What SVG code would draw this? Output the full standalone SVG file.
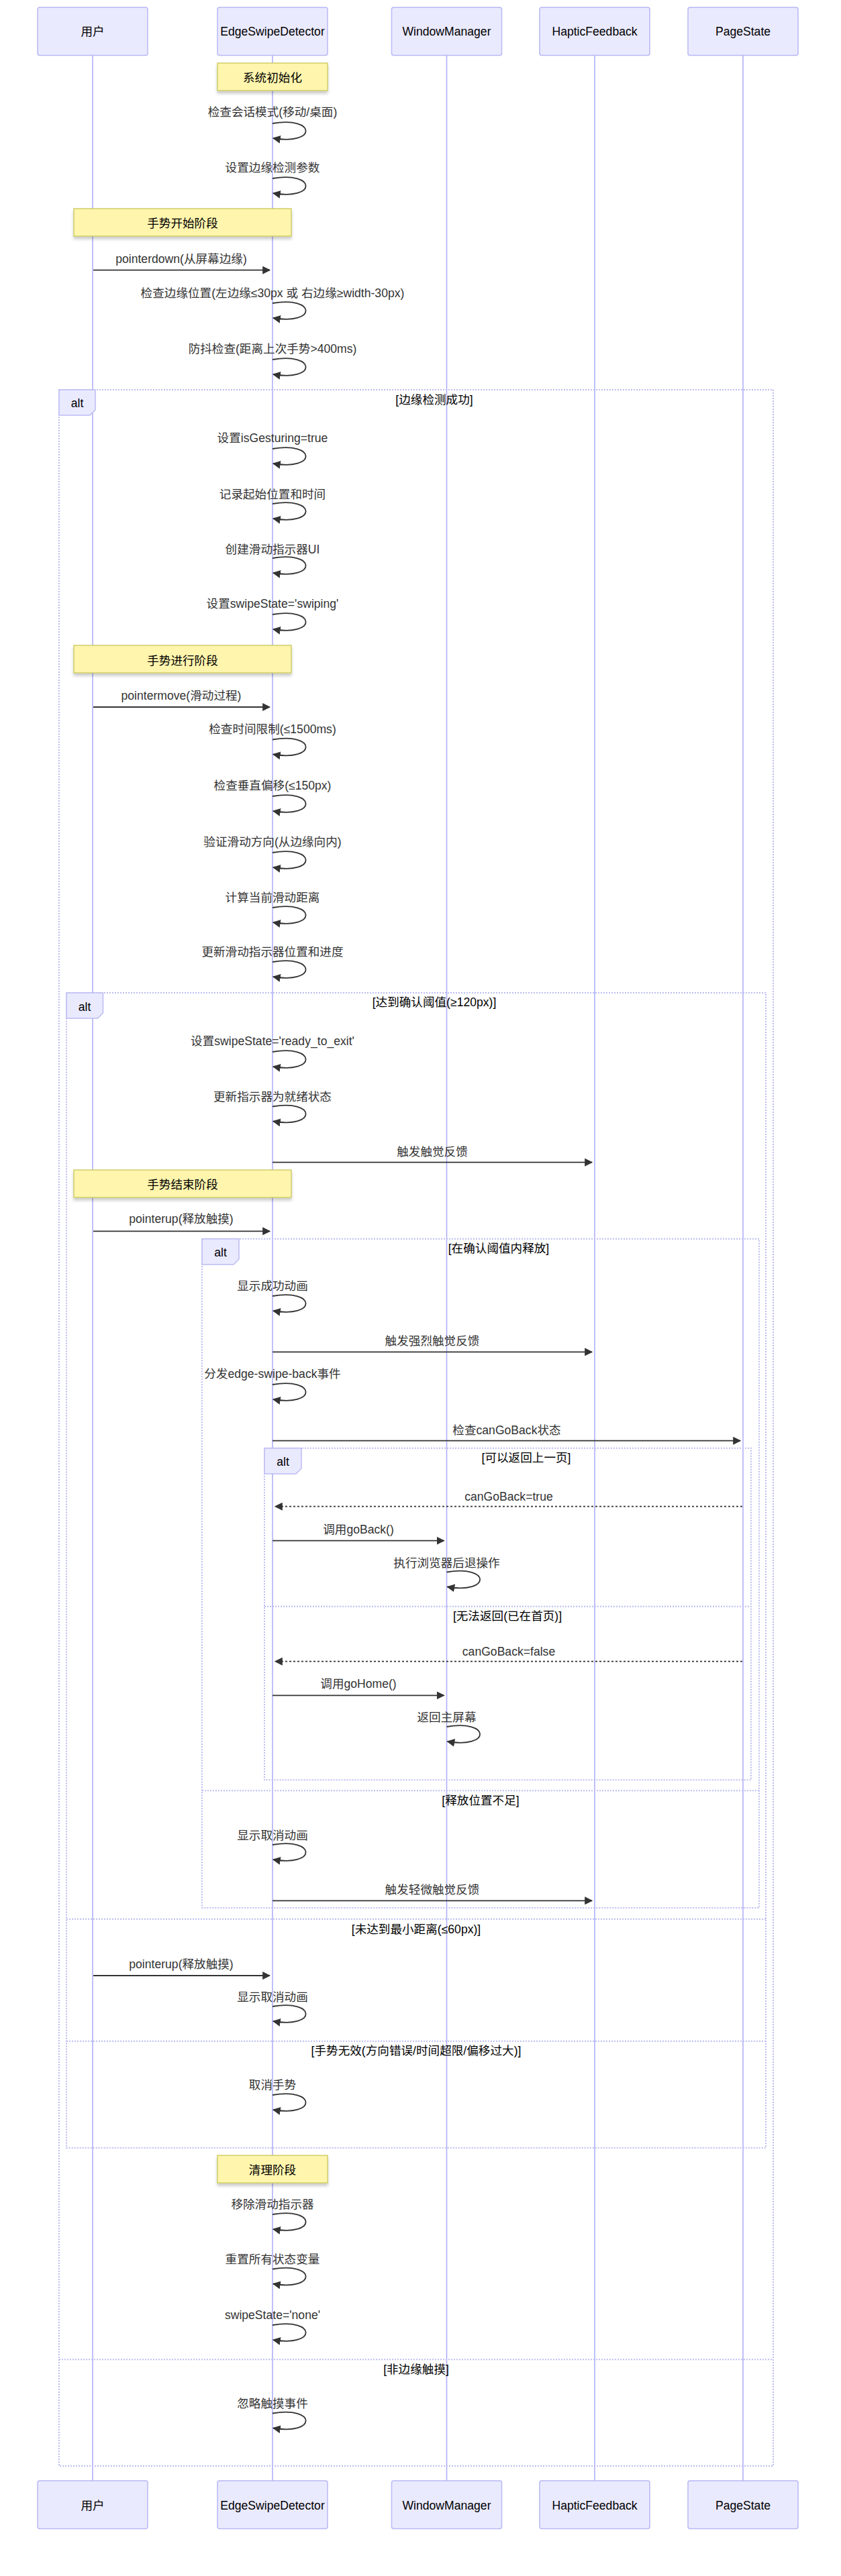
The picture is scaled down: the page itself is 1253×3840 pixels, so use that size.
<svg xmlns="http://www.w3.org/2000/svg" width="1253" height="3840" viewBox="0 0 1253 3840">
<defs>
<style>
text{font-family:"Liberation Sans","Noto Sans CJK SC",Arial,sans-serif;font-size:17.6px;dominant-baseline:central;text-anchor:middle}
.actor{fill:#eaeaff;stroke:#b8b8f5;stroke-width:1.5}
.atxt{fill:#000}
.life{stroke:#b0b0f8;stroke-width:1.6;fill:none}
.note{fill:#fff5ad;stroke:#c8c85a;stroke-width:1.3;filter:url(#sh)}
.ntxt{fill:#000}
.msg{stroke:#333;stroke-width:1.8;fill:none;marker-end:url(#ah)}
.dash{stroke-dasharray:3,3}
.mtxt{fill:#333}
.loop{stroke:#bcbcf2;stroke-width:2;stroke-dasharray:2,2;fill:none}
.lbox{fill:#eaeaff;stroke:#bcbcf2;stroke-width:1.5}
.ctxt{fill:#000}
</style>
<marker id="ah" viewBox="0 0 10 10" refX="9" refY="5" markerWidth="12" markerHeight="12" markerUnits="userSpaceOnUse" orient="auto">
<path d="M0,0 L10,5 L0,10 z" fill="#333"/>
</marker>
<filter id="sh" x="-10%" y="-20%" width="120%" height="160%">
<feDropShadow dx="0" dy="4" stdDeviation="2" flood-color="#000" flood-opacity="0.2"/>
</filter>
</defs>
<rect width="1253" height="3840" fill="#fff"/>

<g id="lifelines">
<line class="life" x1="138" y1="82" x2="138" y2="3698"/>
<line class="life" x1="406" y1="82" x2="406" y2="3698"/>
<line class="life" x1="665.5" y1="82" x2="665.5" y2="3698"/>
<line class="life" x1="886" y1="82" x2="886" y2="3698"/>
<line class="life" x1="1107" y1="82" x2="1107" y2="3698"/>
</g>

<g id="actor-user"><rect class="actor" x="56" y="11" width="164" height="71.5" rx="3"/><text class="atxt" x="138" y="47">用户</text></g>
<g id="actor-esd"><rect class="actor" x="324" y="11" width="164" height="71.5" rx="3"/><text class="atxt" x="406" y="47">EdgeSwipeDetector</text></g>
<g id="actor-wm"><rect class="actor" x="583.5" y="11" width="164" height="71.5" rx="3"/><text class="atxt" x="665.5" y="47">WindowManager</text></g>
<g id="actor-hf"><rect class="actor" x="804" y="11" width="164" height="71.5" rx="3"/><text class="atxt" x="886" y="47">HapticFeedback</text></g>
<g id="actor-ps"><rect class="actor" x="1025" y="11" width="164" height="71.5" rx="3"/><text class="atxt" x="1107" y="47">PageState</text></g>

<g id="actor-user-bottom"><rect class="actor" x="56" y="3698" width="164" height="71.5" rx="3"/><text class="atxt" x="138" y="3735">用户</text></g>
<g id="actor-esd-bottom"><rect class="actor" x="324" y="3698" width="164" height="71.5" rx="3"/><text class="atxt" x="406" y="3735">EdgeSwipeDetector</text></g>
<g id="actor-wm-bottom"><rect class="actor" x="583.5" y="3698" width="164" height="71.5" rx="3"/><text class="atxt" x="665.5" y="3735">WindowManager</text></g>
<g id="actor-hf-bottom"><rect class="actor" x="804" y="3698" width="164" height="71.5" rx="3"/><text class="atxt" x="886" y="3735">HapticFeedback</text></g>
<g id="actor-ps-bottom"><rect class="actor" x="1025" y="3698" width="164" height="71.5" rx="3"/><text class="atxt" x="1107" y="3735">PageState</text></g>

<g id="frames">
<g id="frame1">
<path class="loop" d="M88,581 H1152 V3676 H88 Z"/>
<line class="loop" x1="88" y1="3517.3" x2="1152" y2="3517.3"/>
<polygon class="lbox" points="88,581 142,581 142,611 134,619 88,619"/>
<text class="ctxt" x="115" y="601">alt</text>
<text class="ctxt" x="647" y="596">[边缘检测成功]</text>
<text class="ctxt" x="620" y="3531.7">[非边缘触摸]</text>
</g>
<g id="frame2">
<path class="loop" d="M99,1480 H1141 V3201.7 H99 Z"/>
<line class="loop" x1="99" y1="2860.7" x2="1141" y2="2860.7"/>
<line class="loop" x1="99" y1="3042.7" x2="1141" y2="3042.7"/>
<polygon class="lbox" points="99,1480 153.5,1480 153.5,1510 145.5,1518 99,1518"/>
<text class="ctxt" x="126" y="1501">alt</text>
<text class="ctxt" x="647" y="1494.3">[达到确认阈值(≥120px)]</text>
<text class="ctxt" x="620" y="2875.7">[未达到最小距离(≤60px)]</text>
<text class="ctxt" x="620" y="3057.3">[手势无效(方向错误/时间超限/偏移过大)]</text>
</g>
<g id="frame3">
<path class="loop" d="M301,1846.7 H1131 V2844 H301 Z"/>
<line class="loop" x1="301" y1="2669.3" x2="1131" y2="2669.3"/>
<polygon class="lbox" points="301,1846.7 356,1846.7 356,1877 348,1885 301,1885"/>
<text class="ctxt" x="328.5" y="1867">alt</text>
<text class="ctxt" x="743" y="1860.7">[在确认阈值内释放]</text>
<text class="ctxt" x="716" y="2684.3">[释放位置不足]</text>
</g>
<g id="frame4">
<path class="loop" d="M394,2158.7 H1119 V2653.3 H394 Z"/>
<line class="loop" x1="394" y1="2394.7" x2="1119" y2="2394.7"/>
<polygon class="lbox" points="394,2158.7 449,2158.7 449,2189 441,2197 394,2197"/>
<text class="ctxt" x="421.5" y="2179">alt</text>
<text class="ctxt" x="784" y="2173.3">[可以返回上一页]</text>
<text class="ctxt" x="756" y="2409.3">[无法返回(已在首页)]</text>
</g>
</g>

<g id="notes">
<g id="note-init"><rect class="note" x="324" y="94" width="164" height="41"/><text class="ntxt" x="406" y="116">系统初始化</text></g>
<g id="note-start"><rect class="note" x="110" y="311" width="324" height="41"/><text class="ntxt" x="272" y="333">手势开始阶段</text></g>
<g id="note-move"><rect class="note" x="110" y="962" width="324" height="41"/><text class="ntxt" x="272" y="985">手势进行阶段</text></g>
<g id="note-end"><rect class="note" x="110" y="1744" width="324" height="41"/><text class="ntxt" x="272" y="1766">手势结束阶段</text></g>
<g id="note-clean"><rect class="note" x="324" y="3213" width="164" height="41"/><text class="ntxt" x="406" y="3235">清理阶段</text></g>
</g>

<g id="connectors">
<path class="msg" d="M406,184 C472,173 472,217 407,206"/>
<path class="msg" d="M406,266 C472,255 472,299 407,288"/>
<path class="msg" d="M406,452 C472,441 472,485 407,474"/>
<path class="msg" d="M406,536 C472,525 472,569 407,558"/>
<path class="msg" d="M406,669 C472,658 472,702 407,691"/>
<path class="msg" d="M406,751 C472,740 472,784 407,773"/>
<path class="msg" d="M406,832 C472,821 472,865 407,854"/>
<path class="msg" d="M406,916 C472,905 472,949 407,938"/>
<path class="msg" d="M406,1102.5 C472,1091.5 472,1135.5 407,1124.5"/>
<path class="msg" d="M406,1187 C472,1176 472,1220 407,1209"/>
<path class="msg" d="M406,1271 C472,1260 472,1304 407,1293"/>
<path class="msg" d="M406,1353 C472,1342 472,1386 407,1375"/>
<path class="msg" d="M406,1434 C472,1423 472,1467 407,1456"/>
<path class="msg" d="M406,1568 C472,1557 472,1601 407,1590"/>
<path class="msg" d="M406,1649.5 C472,1638.5 472,1682.5 407,1671.5"/>
<path class="msg" d="M406,1932 C472,1921 472,1965 407,1954"/>
<path class="msg" d="M406,2064 C472,2053 472,2097 407,2086"/>
<path class="msg" d="M665.5,2343.5 C731.5,2332.5 731.5,2376.5 666.5,2365.5"/>
<path class="msg" d="M665.5,2574 C731.5,2563 731.5,2607 666.5,2596"/>
<path class="msg" d="M406,2750 C472,2739 472,2783 407,2772"/>
<path class="msg" d="M406,2991 C472,2980 472,3024 407,3013"/>
<path class="msg" d="M406,3123 C472,3112 472,3156 407,3145"/>
<path class="msg" d="M406,3301 C472,3290 472,3334 407,3323"/>
<path class="msg" d="M406,3382.5 C472,3371.5 472,3415.5 407,3404.5"/>
<path class="msg" d="M406,3466 C472,3455 472,3499 407,3488"/>
<path class="msg" d="M406,3597.5 C472,3586.5 472,3630.5 407,3619.5"/>
<line class="msg" x1="139" y1="402.7" x2="402" y2="402.7"/>
<line class="msg" x1="139" y1="1054" x2="402" y2="1054"/>
<line class="msg" x1="406" y1="1732.7" x2="882" y2="1732.7"/>
<line class="msg" x1="139" y1="1835.3" x2="402" y2="1835.3"/>
<line class="msg" x1="406" y1="2015.3" x2="882" y2="2015.3"/>
<line class="msg" x1="406" y1="2147.7" x2="1103" y2="2147.7"/>
<line class="msg dash" x1="1106" y1="2245.7" x2="410" y2="2245.7"/>
<line class="msg" x1="406" y1="2296.7" x2="661.5" y2="2296.7"/>
<line class="msg dash" x1="1106" y1="2476.7" x2="410" y2="2476.7"/>
<line class="msg" x1="406" y1="2527.3" x2="661.5" y2="2527.3"/>
<line class="msg" x1="406" y1="2833.3" x2="882" y2="2833.3"/>
<line class="msg" x1="139" y1="2945" x2="402" y2="2945"/>
</g>

<g id="message-labels">
<text class="mtxt" x="406" y="166.7">检查会话模式(移动/桌面)</text>
<text class="mtxt" x="406" y="250">设置边缘检测参数</text>
<text class="mtxt" x="270" y="386">pointerdown(从屏幕边缘)</text>
<text class="mtxt" x="406" y="436.7">检查边缘位置(左边缘≤30px 或 右边缘≥width-30px)</text>
<text class="mtxt" x="406" y="520">防抖检查(距离上次手势&gt;400ms)</text>
<text class="mtxt" x="406" y="653.3">设置isGesturing=true</text>
<text class="mtxt" x="406" y="736.7">记录起始位置和时间</text>
<text class="mtxt" x="406" y="819">创建滑动指示器UI</text>
<text class="mtxt" x="406" y="900">设置swipeState='swiping'</text>
<text class="mtxt" x="270" y="1036.7">pointermove(滑动过程)</text>
<text class="mtxt" x="406" y="1087.3">检查时间限制(≤1500ms)</text>
<text class="mtxt" x="406" y="1171">检查垂直偏移(≤150px)</text>
<text class="mtxt" x="406" y="1255">验证滑动方向(从边缘向内)</text>
<text class="mtxt" x="406" y="1337.7">计算当前滑动距离</text>
<text class="mtxt" x="406" y="1419.3">更新滑动指示器位置和进度</text>
<text class="mtxt" x="406" y="1551.7">设置swipeState='ready_to_exit'</text>
<text class="mtxt" x="406" y="1635">更新指示器为就绪状态</text>
<text class="mtxt" x="644" y="1716.7">触发触觉反馈</text>
<text class="mtxt" x="270" y="1817.3">pointerup(释放触摸)</text>
<text class="mtxt" x="406" y="1917.3">显示成功动画</text>
<text class="mtxt" x="644" y="1999.3">触发强烈触觉反馈</text>
<text class="mtxt" x="406" y="2048.3">分发edge-swipe-back事件</text>
<text class="mtxt" x="755" y="2132.3">检查canGoBack状态</text>
<text class="mtxt" x="758" y="2230.7">canGoBack=true</text>
<text class="mtxt" x="534" y="2280">调用goBack()</text>
<text class="mtxt" x="665.5" y="2330">执行浏览器后退操作</text>
<text class="mtxt" x="758" y="2461.7">canGoBack=false</text>
<text class="mtxt" x="534" y="2510">调用goHome()</text>
<text class="mtxt" x="665.5" y="2560">返回主屏幕</text>
<text class="mtxt" x="406" y="2735.7">显示取消动画</text>
<text class="mtxt" x="644" y="2816.7">触发轻微触觉反馈</text>
<text class="mtxt" x="270" y="2928.3">pointerup(释放触摸)</text>
<text class="mtxt" x="406" y="2976.7">显示取消动画</text>
<text class="mtxt" x="406" y="3108.3">取消手势</text>
<text class="mtxt" x="406" y="3285.7">移除滑动指示器</text>
<text class="mtxt" x="406" y="3368.3">重置所有状态变量</text>
<text class="mtxt" x="406" y="3451">swipeState='none'</text>
<text class="mtxt" x="406" y="3582.7">忽略触摸事件</text>
</g>
</svg>
